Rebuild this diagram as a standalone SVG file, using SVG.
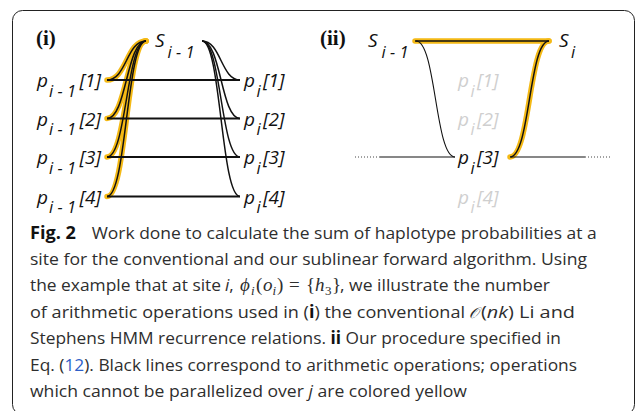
<svg xmlns="http://www.w3.org/2000/svg" width="635" height="411" viewBox="0 0 635 411">
<style>
.frame{fill:none;stroke:#222;stroke-width:1}
.yl{fill:none;stroke:#f4b915;stroke-width:5.5;stroke-linecap:round}
.bk{fill:none;stroke:#111;stroke-width:1.5}
.bt{fill:none;stroke:#111;stroke-width:1.1}
.hl{fill:none;stroke:#111;stroke-width:1.8}
.dot{fill:none;stroke:#444;stroke-width:1;stroke-dasharray:1 2}
.lb{font-family:'Open Sans','Noto Sans',sans-serif;font-style:italic;font-size:19px;fill:#111}
.sb{font-size:16.5px}
.gr{fill:#cfcfcf}
.pn{font-family:'Liberation Serif',serif;font-weight:bold;font-size:21px;fill:#111}
.cap{font-family:'Open Sans','Noto Sans',sans-serif;font-size:17px;fill:#2e2e2e}
.b{font-weight:bold;fill:#111}
.it{font-style:italic}
.m{font-family:'Liberation Serif',serif;font-size:19px}
.mi{font-family:'Liberation Serif',serif;font-size:19px;font-style:italic}
.ms{font-family:'Liberation Serif',serif;font-size:13px}
.msi{font-family:'Liberation Serif',serif;font-size:13px;font-style:italic}
.lnk{fill:#2f5fc8}
</style>
<rect class="frame" x="12.5" y="10.5" width="622" height="404" rx="10"/>

<g id="panel-i-label"><text class="pn" x="36" y="45">(i)</text></g>
<g id="panel-ii-label"><text class="pn" x="320" y="45">(ii)</text></g>

<g id="connectors">
  <path class="yl" d="M107,80 C126.5,80 126.5,41 146,41"/>
  <path class="yl" d="M107,118.5 C126.5,118.5 126.5,41 146,41"/>
  <path class="yl" d="M107,157 C126.5,157 126.5,41 146,41"/>
  <path class="yl" d="M107,196.5 C126.5,196.5 126.5,41 146,41"/>
  <path class="bk" d="M107,80 C126.5,80 126.5,41 146,41"/>
  <path class="bk" d="M107,118.5 C126.5,118.5 126.5,41 146,41"/>
  <path class="bk" d="M107,157 C126.5,157 126.5,41 146,41"/>
  <path class="bk" d="M107,196.5 C126.5,196.5 126.5,41 146,41"/>
  <path class="bk" d="M202,41 C221,41 221,80 240,80"/>
  <path class="bk" d="M202,41 C221,41 221,118.5 240,118.5"/>
  <path class="bk" d="M202,41 C221,41 221,157 240,157"/>
  <path class="bk" d="M202,41 C221,41 221,196.5 240,196.5"/>
  <path class="hl" d="M107,80 H240 M107,118.5 H240 M107,157 H240 M107,196.5 H240"/>

  <path class="yl" d="M415,41 H549"/>
  <path class="yl" d="M510,157 C530,157 529,41 549,41"/>
  <path class="bk" d="M415,41 H549"/>
  <path class="bk" d="M510,157 C530,157 529,41 549,41"/>
  <path class="bt" d="M416,41 C436,41 435,157 455,157"/>
  <path class="bt" d="M380,157 H455 M511,157 H585"/>
  <path class="dot" d="M355,157 H380 M585,157 H612"/>
</g>

<g id="S-i-1-a"><text class="lb" x="155" y="47">S<tspan class="sb" x="167.5" y="57.5">i - 1</tspan></text></g>
<g id="p-left-1"><text class="lb" x="37" y="87">p<tspan class="sb" x="49" y="96.5">i - 1</tspan><tspan x="79.5" y="87">[1]</tspan></text></g>
<g id="p-left-2"><text class="lb" x="37" y="125.5">p<tspan class="sb" x="49" y="135">i - 1</tspan><tspan x="79.5" y="125.5">[2]</tspan></text></g>
<g id="p-left-3"><text class="lb" x="37" y="164">p<tspan class="sb" x="49" y="173.5">i - 1</tspan><tspan x="79.5" y="164">[3]</tspan></text></g>
<g id="p-left-4"><text class="lb" x="37" y="203.5">p<tspan class="sb" x="49" y="213">i - 1</tspan><tspan x="79.5" y="203.5">[4]</tspan></text></g>
<g id="p-right-1"><text class="lb" x="244" y="87">p<tspan class="sb" x="256.5" y="96.5">i</tspan><tspan x="263" y="87">[1]</tspan></text></g>
<g id="p-right-2"><text class="lb" x="244" y="125.5">p<tspan class="sb" x="256.5" y="135">i</tspan><tspan x="263" y="125.5">[2]</tspan></text></g>
<g id="p-right-3"><text class="lb" x="244" y="164">p<tspan class="sb" x="256.5" y="173.5">i</tspan><tspan x="263" y="164">[3]</tspan></text></g>
<g id="p-right-4"><text class="lb" x="244" y="203.5">p<tspan class="sb" x="256.5" y="213">i</tspan><tspan x="263" y="203.5">[4]</tspan></text></g>

<g id="S-i-1-b"><text class="lb" x="368" y="47">S<tspan class="sb" x="381.5" y="57.5">i - 1</tspan></text></g>
<g id="S-i"><text class="lb" x="559" y="47">S<tspan class="sb" x="571" y="57.5">i</tspan></text></g>
<g id="pii-1"><text class="lb gr" x="458" y="87">p<tspan class="sb" x="470.5" y="96.5">i</tspan><tspan x="477" y="87">[1]</tspan></text></g>
<g id="pii-2"><text class="lb gr" x="458" y="125.5">p<tspan class="sb" x="470.5" y="135">i</tspan><tspan x="477" y="125.5">[2]</tspan></text></g>
<g id="pii-3"><text class="lb" x="458" y="164">p<tspan class="sb" x="470.5" y="173.5">i</tspan><tspan x="477" y="164">[3]</tspan></text></g>
<g id="pii-4"><text class="lb gr" x="458" y="203.5">p<tspan class="sb" x="470.5" y="213">i</tspan><tspan x="477" y="203.5">[4]</tspan></text></g>

<g id="caption">
  <text class="cap b" x="30" y="238.5" textLength="46" lengthAdjust="spacingAndGlyphs">Fig. 2</text>
  <text class="cap" x="91.7" y="238.5" textLength="505" lengthAdjust="spacingAndGlyphs">Work done to calculate the sum of haplotype probabilities at a</text>
  <text class="cap" x="30" y="264.9" textLength="557" lengthAdjust="spacingAndGlyphs">site for the conventional and our sublinear forward algorithm. Using</text>
  <text class="cap" x="30" y="291.3" textLength="191" lengthAdjust="spacingAndGlyphs">the example that at site</text>
  <text class="cap" x="225" y="291.3"><tspan class="it">i</tspan>,</text>
  <text class="mi" x="240" y="291.3" fill="#2e2e2e">ϕ</text>
  <text class="msi" x="251" y="294.5" fill="#2e2e2e">i</text>
  <text class="m" x="256" y="291.3" fill="#2e2e2e">(</text>
  <text class="mi" x="263" y="291.3" fill="#2e2e2e">o</text>
  <text class="msi" x="272.5" y="294.5" fill="#2e2e2e">i</text>
  <text class="m" x="277" y="291.3" fill="#2e2e2e">)</text>
  <text class="m" x="289" y="291.3" fill="#2e2e2e">=</text>
  <text class="m" x="306" y="291.3" fill="#2e2e2e">{</text>
  <text class="mi" x="315" y="291.3" fill="#2e2e2e">h</text>
  <text class="ms" x="325" y="294.5" fill="#2e2e2e">3</text>
  <text class="m" x="332" y="291.3" fill="#2e2e2e">}</text>
  <text class="cap" x="340" y="291.3" textLength="210" lengthAdjust="spacingAndGlyphs">, we illustrate the number</text>
  <text class="cap" x="30" y="317.7" textLength="435" lengthAdjust="spacingAndGlyphs">of arithmetic operations used in (<tspan class="b">i</tspan>) the conventional</text>
  <text x="469" y="317.7" font-family="'Liberation Serif',serif" font-style="italic" font-size="15px" fill="#2e2e2e">𝒪</text>
  <text class="cap" x="481" y="317.7" textLength="94" lengthAdjust="spacingAndGlyphs">(<tspan class="it">nk</tspan>) Li and</text>
  <text class="cap" x="30" y="344.1" textLength="531" lengthAdjust="spacingAndGlyphs">Stephens HMM recurrence relations. <tspan class="b">ii</tspan> Our procedure specified in</text>
  <text class="cap" x="30" y="370.5" textLength="547" lengthAdjust="spacingAndGlyphs">Eq. (<tspan class="lnk">12</tspan>). Black lines correspond to arithmetic operations; operations</text>
  <text class="cap" x="30" y="396.9" textLength="437" lengthAdjust="spacingAndGlyphs">which cannot be parallelized over <tspan class="it">j</tspan> are colored yellow</text>
</g>
</svg>
